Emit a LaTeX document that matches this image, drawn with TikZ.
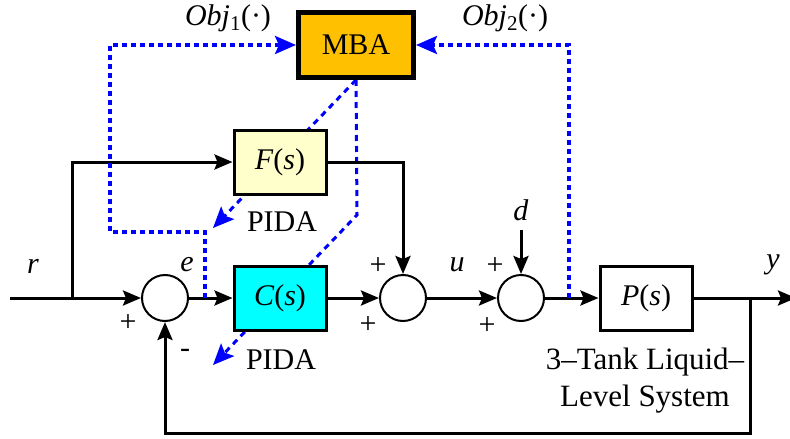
\documentclass[tikz,border=0pt]{standalone}
\usepackage{fontspec}
\setmainfont{Liberation Serif}
\usetikzlibrary{arrows.meta,positioning,calc,backgrounds}
\definecolor{mbaorange}{HTML}{FFC000}
\definecolor{fyellow}{HTML}{FFFFCC}
\definecolor{ccyan}{HTML}{00FFFF}
\definecolor{tuneblue}{HTML}{0000FF}
\tikzset{
  block/.style={draw, line width=3pt, minimum width=92pt, minimum height=64pt, inner sep=0pt},
  sumnode/.style={draw, circle, line width=2pt, minimum size=46pt, inner sep=0pt},
  arrow/.style={-{Stealth[length=18pt,width=15pt,inset=3pt]}, line width=3pt},
  objline/.style={tuneblue, line width=3.5pt, dash pattern=on 5pt off 4pt,
                  -{Stealth[length=21pt,width=18pt,inset=4pt]}},
  tuneline/.style={tuneblue, line width=3pt, dash pattern=on 6pt off 5pt,
                   -{Stealth[length=21pt,width=18pt,inset=4pt]}},
  lbl/.style={font=\fontsize{30}{34}\selectfont},
}

\begin{document}
\begin{tikzpicture}[x=1pt, y=-1pt, lbl]
  \useasboundingbox (0,0) rectangle (790,439);

  % Blocks
  \node[block, line width=5pt, fill=mbaorange, minimum width=115pt, minimum height=65pt] (mba)
    at (356,45) {MBA};
  \node[block, fill=fyellow] (F) at (280,162) {\textit{F}(\textit{s})};
  \node[block, fill=ccyan] (C) at (280,298) {\textit{C}(\textit{s})};
  \node[block] (P) at (646,298) {\textit{P}(\textit{s})};

  % Summing junctions
  \node[sumnode] (s1) at (165,298) {};
  \node[sumnode] (s2) at (403,298) {};
  \node[sumnode] (s3) at (521,298) {};

  % Tap points
  \coordinate (rin)  at (10,298);
  \coordinate (rtap) at (72,298);
  \coordinate (etap) at (205,298);
  \coordinate (ptap) at (569,298);
  \coordinate (ytap) at (750,298);
  \coordinate (yout) at (796,298);
  \coordinate (din)  at (521,230);
  \coordinate (fbk)  at (750,433);
  \coordinate (o1a)  at (205,232);
  \coordinate (o1b)  at (110,232);
  \coordinate (bend) at (357,215);
  \coordinate (tip1) at (213,228);
  \coordinate (tip2) at (213,365);

  % Signal wires
  \draw[arrow] (rin) -- (s1);
  \draw[arrow] (rtap) |- (F);
  \draw[arrow] (s1) -- (C);
  \draw[arrow] (C) -- (s2);
  \draw[arrow] (F) -| (s2);
  \draw[arrow] (s2) -- (s3);
  \draw[arrow] (din) -- (s3);
  \draw[arrow] (s3) -- (P);
  \draw[arrow] (P) -- (yout);
  \draw[arrow] (ytap) -- (fbk) -| (s1);

  % Objective feedback to MBA
  \draw[objline] (etap) -- (o1a) -- (o1b) |- (mba);
  \draw[objline] (ptap) |- (mba);

  % PIDA tuning (behind the blocks)
  \begin{scope}[on background layer]
    \draw[tuneline] (mba.south) -- (tip1);
    \draw[tuneline] (mba.south) -- (bend) -- (tip2);
  \end{scope}

  % Labels
  \node (obj1) at (228,18) {\textit{Obj}\textsubscript{1}(·)};
  \node (obj2) at (505,18) {\textit{Obj}\textsubscript{2}(·)};
  \node (pida1) at (282,222) {PIDA};
  \node (pida2) at (281,360) {PIDA};
  \node (lr) at (33,266) {\textit{r}};
  \node (le) at (187,265) {\textit{e}};
  \node (lu) at (457,265) {\textit{u}};
  \node (ld) at (521,210) {\textit{d}};
  \node (ly) at (773,265) {\textit{y}};
  \node (p1) at (128,323) {+};
  \node (m1) at (185,353) {-};
  \node (p2a) at (378,266) {+};
  \node (p2b) at (368,325) {+};
  \node (p3a) at (495,266) {+};
  \node (p3b) at (487,326) {+};
  \node[align=center, font=\fontsize{31}{37}\selectfont] (plant) at (645,381)
    {3–Tank Liquid–\\Level System};
\end{tikzpicture}
\end{document}
